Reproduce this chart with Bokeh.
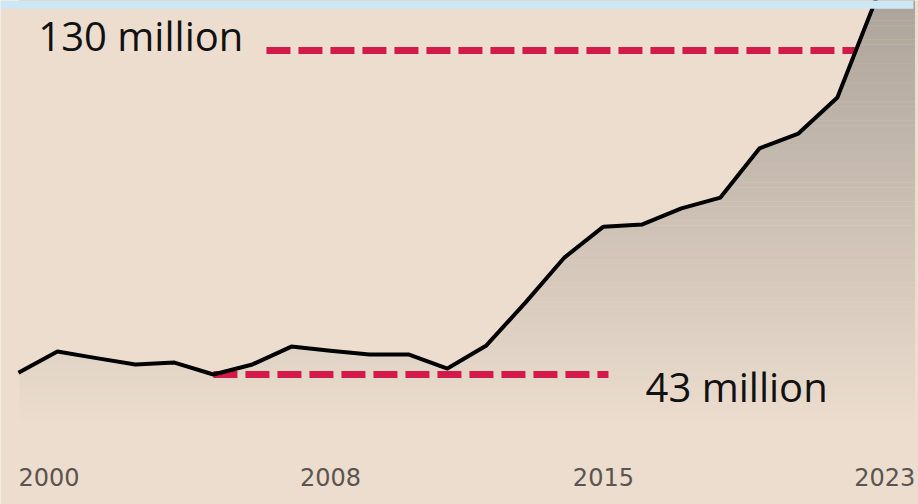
import numpy as np
from bokeh.plotting import figure, ColumnDataSource
from bokeh.models import Range1d, BoxAnnotation
from bokeh.core.properties import value
from bokeh.embed import file_html
from bokeh.resources import INLINE

# ---- data (millions) ----
years = list(range(2000, 2024))
values = [43.5, 49.2, 47.4, 45.7, 46.2, 43.0, 45.7, 50.5, 49.4, 48.4, 48.4, 44.6,
          50.8, 62.3, 74.4, 82.7, 83.3, 87.6, 90.5, 103.7, 107.7, 117.4, 144.0, 165.0]

ref_values = [130, 43]
ref_labels = ["130 million", "43 million"]
ref_start = [2006.36, 2005.0]
ref_end = [2021.47, 2015.13]
ref_label_x = [2000.51, 2016.08]
ref_label_y = [134.0, 39.8]

tick_years = [2000, 2008, 2015, 2023]
tick_labels = ["2000", "2008", "2015", "2023"]
tick_align = ["left", "center", "center", "right"]

# ---- styling ----
BG = "#EDDDCE"
TOP_RGB = np.array([172, 163, 154])
BOT_RGB = np.array([236, 221, 206])

x0, x1 = 1999.54, 2023.08
y0, y1 = 8.09, 143.43
base = 29.3

p = figure(width=918, height=504, output_backend="svg", toolbar_location=None,
           x_range=Range1d(x0, x1), y_range=Range1d(y0, y1),
           x_axis_location=None, y_axis_location=None, min_border=0,
           background_fill_color=BG, border_fill_color=BG)
p.outline_line_color = None
p.xgrid.visible = False
p.ygrid.visible = False

# gradient fill under the line (vertical bands, masked above the line)
n = 90
edges = np.linspace(base, y1 + 1, n + 1)
cols = []
for i in range(n):
    mid = (edges[i] + edges[i + 1]) / 2
    f = (mid - base) / (y1 - base)
    c = BOT_RGB + (TOP_RGB - BOT_RGB) * min(max(f, 0), 1)
    cols.append("#%02x%02x%02x" % tuple(int(round(v)) for v in c))
p.quad(left=[years[0] + 0.03] * n, right=[years[-1] - 0.01] * n,
       bottom=list(edges[:-1] - 0.05), top=list(edges[1:] + 0.05),
       fill_color=cols, line_color=None)

# mask above the line
p.varea(x=years, y1=values, y2=[y1 + 50] * len(years), fill_color=BG)

# dashed reference lines
for v, s, e in zip(ref_values, ref_start, ref_end):
    p.line([s, e], [v, v], line_color="#D31B4B", line_width=7, line_dash="24 8")

# the series line
p.line(years, values, line_color="black", line_width=4, line_join="round")

# reference labels
p.text(x=ref_label_x, y=ref_label_y, text=ref_labels, text_font=value("Open Sans"),
       text_font_size="40px", text_color="#111111", text_baseline="alphabetic",
       text_align="left")

# x tick labels
tsrc = ColumnDataSource(dict(x=tick_years, y=[15.6] * len(tick_years),
                             t=tick_labels, a=tick_align))
p.text(x="x", y="y", text="t", text_align="a", source=tsrc,
       text_font=value("DejaVu Sans"), text_font_size="24px",
       text_color="#5a5550", text_baseline="alphabetic")

# light blue strip at the top
p.add_layout(BoxAnnotation(bottom=141.2, right=2022.95, fill_color="#CDE8F4",
                           fill_alpha=1, line_color=None, level="overlay"))

open("out.html", "w").write(file_html(p, INLINE))
